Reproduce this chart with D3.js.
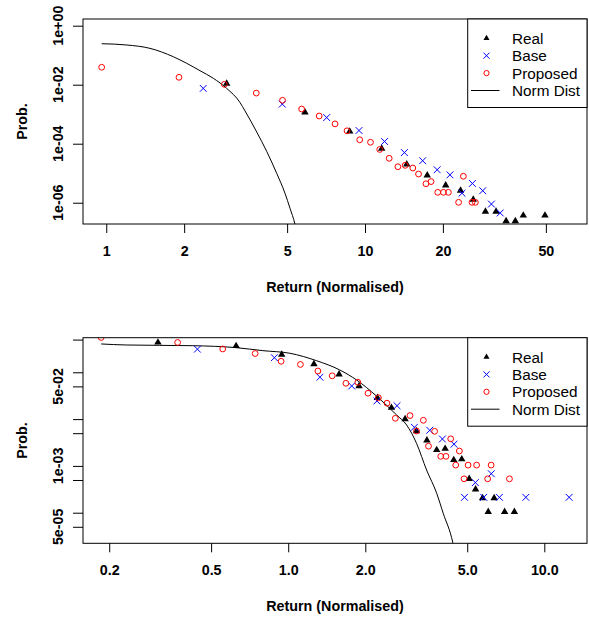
<!DOCTYPE html>
<html><head><meta charset="utf-8">
<script src="https://cdn.jsdelivr.net/npm/d3@7"></script>
<style>body{margin:0;background:#fff}svg{display:block}</style>
</head><body>
<script>
// ---------- data ----------
const topTicksX = [1, 2, 5, 10, 20, 50];
const topTickLabelsX = ["1", "2", "5", "10", "20", "50"];
const topTicksY = [1, 1e-2, 1e-4, 1e-6];
const topTickLabelsY = ["1e+00", "1e-02", "1e-04", "1e-06"];
const bottomTicksX = [0.2, 0.5, 1, 2, 5, 10];
const bottomTickLabelsX = ["0.2", "0.5", "1.0", "2.0", "5.0", "10.0"];
const bottomTicksY = [5e-1, 1e-1, 5e-2, 1e-2, 5e-3, 1e-3, 5e-4, 1e-4, 5e-5];
const bottomTickLabelsY = ["", "", "5e-02", "", "", "1e-03", "", "", "5e-05"];
const legendLabels = ["Real", "Base", "Proposed", "Norm Dist"];
const xTitle = "Return (Normalised)";
const yTitle = "Prob.";

// top panel series: [return, probability]
const topReal = [[2.92,1.1e-2],[5.86,1.16e-3],[8.73,2.6e-4],[11.6,6.8e-5],[14.5,2.0e-5],[17.4,8.5e-6],
  [20.5,3.9e-6],[23.4,2.6e-6],[26.2,1.27e-6],[29.2,5.0e-7],[32.1,5.0e-7],[35.1,2.4e-7],[38.1,2.4e-7],
  [40.9,3.7e-7],[49.6,3.7e-7]];
const topBase = [[2.37,7.5e-3],[4.79,2.2e-3],[7.11,7.7e-4],[9.48,2.8e-4],[11.9,1.19e-4],[14.2,5.0e-5],
  [16.7,2.65e-5],[19.0,1.31e-5],[21.3,8.8e-6],[23.7,2.1e-6],[26.0,4.5e-6],[28.5,2.55e-6],[30.8,9.0e-7],
  [33.3,4.5e-7]];
const topProposed = [[0.96,3.9e-2],[1.91,1.78e-2],[2.86,1.03e-2],[3.80,5.2e-3],[4.80,2.96e-3],[5.69,1.5e-3],
  [6.65,8.7e-4],[7.66,4.7e-4],[8.52,2.74e-4],[9.54,1.36e-4],[10.5,1.12e-4],[11.4,6.4e-5],[12.4,3.2e-5],
  [13.4,1.66e-5],[14.3,1.85e-5],[15.3,1.5e-5],[16.1,9.4e-6],[17.2,4.4e-6],[18.0,5.2e-6],[19.1,2.25e-6],
  [20.1,2.25e-6],[21.0,2.25e-6],[23.0,1.03e-6],[24.0,7.9e-6],[25.9,1.03e-6],[26.7,1.03e-6]];
const topNorm = [[0.96,0.245],[1.20,0.222],[1.475,0.171],[1.815,0.089],[2.046,0.0531],[2.303,0.0298],
  [2.592,0.0165],[2.92,0.0075],[3.287,0.0025],[3.437,0.0013],[3.814,2.5e-4],[4.169,5.5e-5],
  [4.557,9.93e-6],[4.907,2.08e-6],[5.13,6.46e-7],[5.36,1.9e-7],[5.45,1.0e-7]];

// bottom panel series
const bottomReal = [[0.31,0.434],[0.626,0.365],[0.943,0.238],[1.26,0.150],[1.58,0.0906],[1.89,0.051],
  [2.23,0.0286],[2.53,0.0175],[2.86,0.0100],[3.17,0.00557],[3.48,0.00352],[3.80,0.00219],[4.10,0.00233],
  [4.43,0.00134],[4.76,0.00139],[5.09,5.3e-4],[5.39,3.16e-4],[5.74,2.06e-4],[6.37,2.06e-4],[6.04,1.04e-4],
  [7.00,1.04e-4],[7.64,1.04e-4]];
const bottomBase = [[0.442,0.312],[0.883,0.205],[1.33,0.0786],[1.77,0.051],[2.22,0.0244],[2.66,0.0193],
  [3.11,0.00668],[3.57,0.00577],[4.00,0.00376],[4.44,0.00291],[5.38,4.4e-4],[6.21,6.8e-4],[4.88,2.13e-4],
  [5.80,2.13e-4],[6.68,2.13e-4],[8.47,2.13e-4],[12.5,2.13e-4]];
const bottomProposed = [[0.186,0.555],[0.370,0.434],[0.555,0.315],[0.743,0.252],[0.938,0.172],[1.116,0.147],
  [1.306,0.1066],[1.485,0.0842],[1.68,0.0582],[1.87,0.0611],[2.05,0.0357],[2.25,0.0286],[2.43,0.0219],
  [2.62,0.0104],[2.99,0.0119],[3.17,0.00557],[3.37,0.00942],[3.73,0.00548],[3.53,0.00264],[4.31,0.00379],
  [3.94,0.0016],[4.13,0.0016],[4.66,0.00208],[4.51,0.00104],[5.04,0.00104],[5.44,0.00104],[6.20,0.00104],
  [4.86,5.3e-4],[6.01,5.3e-4],[7.31,5.3e-4]];
const bottomNorm = [[0.186,0.403],[0.233,0.383],[0.424,0.370],[0.627,0.336],[0.796,0.290],[1.015,0.255],
  [1.29,0.177],[1.59,0.112],[1.85,0.0684],[2.21,0.0312],[2.65,0.01225],[2.90,0.00748],[3.17,0.00304],
  [3.47,8.17e-4],[3.80,2.6e-4],[4.03,9.7e-5],[4.39,2.33e-5],[4.5,1.2e-5]];

// ---------- layout / style ----------
const W = 589, H = 619;
const FONT = "'Liberation Sans', Arial, Helvetica, sans-serif";
const colReal = "#000000", colBase = "#0000FF", colProp = "#FF0000";

const panels = [
  { id: "top", box: {l: 83, r: 587, t: 19, b: 224}, xDomain: [0.813, 72.1], yDomain: [1.9e-7, 1.687],
    ticksX: topTicksX, labelsX: topTickLabelsX, ticksY: topTicksY, labelsY: topTickLabelsY,
    real: topReal, base: topBase, prop: topProposed, norm: topNorm },
  { id: "bot", box: {l: 83, r: 587, t: 337.7, b: 543.3}, xDomain: [0.158, 14.68], yDomain: [2.22e-5, 0.5484],
    ticksX: bottomTicksX, labelsX: bottomTickLabelsX, ticksY: bottomTicksY, labelsY: bottomTickLabelsY,
    real: bottomReal, base: bottomBase, prop: bottomProposed, norm: bottomNorm }
];

const svg = d3.select("body").append("svg").attr("width", W).attr("height", H)
  .style("font-family", FONT);

const triPath = d3.symbol().type(d3.symbolTriangle).size(24)();

panels.forEach(p => {
  const b = p.box;
  const x = d3.scaleLog().domain(p.xDomain).range([b.l, b.r]);
  const y = d3.scaleLog().domain(p.yDomain).range([b.b, b.t]);

  const clipId = "clip-" + p.id;
  svg.append("clipPath").attr("id", clipId).append("rect")
    .attr("x", b.l).attr("y", b.t).attr("width", b.r - b.l).attr("height", b.b - b.t);

  const g = svg.append("g").attr("clip-path", `url(#${clipId})`);

  // normal distribution line
  g.append("path").datum(p.norm)
    .attr("d", d3.line().x(d => x(d[0])).y(d => y(d[1])).curve(d3.curveMonotoneX))
    .attr("fill", "none").attr("stroke", "#000").attr("stroke-width", 1);

  // Real triangles
  g.selectAll(".real").data(p.real).enter().append("path")
    .attr("d", triPath)
    .attr("transform", d => `translate(${x(d[0])},${y(d[1])})`)
    .attr("fill", colReal);

  // Base crosses
  g.selectAll(".base").data(p.base).enter().append("path")
    .attr("d", "M-3.4,-3.4L3.4,3.4M-3.4,3.4L3.4,-3.4")
    .attr("transform", d => `translate(${x(d[0])},${y(d[1])})`)
    .attr("stroke", colBase).attr("stroke-width", 1).attr("fill", "none");

  // Proposed circles
  g.selectAll(".prop").data(p.prop).enter().append("circle")
    .attr("cx", d => x(d[0])).attr("cy", d => y(d[1])).attr("r", 2.9)
    .attr("fill", "none").attr("stroke", colProp).attr("stroke-width", 1);

  // box
  svg.append("rect").attr("x", b.l).attr("y", b.t).attr("width", b.r - b.l).attr("height", b.b - b.t)
    .attr("fill", "none").attr("stroke", "#000").attr("stroke-width", 1);

  // x axis
  const xa = svg.append("g").attr("transform", `translate(0,${b.b})`)
    .call(d3.axisBottom(x).tickValues(p.ticksX).tickFormat((d, i) => p.labelsX[i]).tickSize(9).tickPadding(13));
  xa.select(".domain").remove();
  xa.selectAll("line").attr("stroke", "#000");
  xa.selectAll("text").attr("fill", "#000").style("font-family", FONT)
    .style("font-size", "14.3px").style("font-weight", "bold");

  // y axis
  const ya = svg.append("g").attr("transform", `translate(${b.l},0)`)
    .call(d3.axisLeft(y).tickValues(p.ticksY).tickFormat("").tickSize(10));
  ya.select(".domain").remove();
  ya.selectAll("line").attr("stroke", "#000");
  svg.append("g").selectAll("text").data(p.ticksY.map((v, i) => [v, p.labelsY[i]]).filter(d => d[1] !== ""))
    .enter().append("text")
    .attr("transform", d => `translate(63,${y(d[0])}) rotate(-90)`)
    .attr("text-anchor", "middle")
    .style("font-size", "14.3px").style("font-weight", "bold")
    .text(d => d[1]);

  // axis titles
  svg.append("text").attr("x", (b.l + b.r) / 2).attr("y", b.b + 68)
    .attr("text-anchor", "middle").style("font-size", "14.3px").style("font-weight", "bold")
    .text(xTitle);
  svg.append("text").attr("transform", `translate(27,${(b.t + b.b) / 2}) rotate(-90)`)
    .attr("text-anchor", "middle").style("font-size", "14.3px").style("font-weight", "bold")
    .text(yTitle);

  // legend
  const lg = svg.append("g");
  const lx0 = 467.7, lw = b.r - 467.7, lh = 88.5;
  lg.append("rect").attr("x", lx0).attr("y", b.t).attr("width", lw).attr("height", lh)
    .attr("fill", "#fff").attr("stroke", "#000").attr("stroke-width", 1);
  const rowY = i => b.t + 19.3 + 17.4 * i;
  const mx = 486.5;
  lg.append("path").attr("d", d3.symbol().type(d3.symbolTriangle).size(16)())
    .attr("transform", `translate(${mx},${rowY(0)})`).attr("fill", colReal);
  lg.append("path").attr("d", "M-3,-3L3,3M-3,3L3,-3")
    .attr("transform", `translate(${mx},${rowY(1)})`).attr("stroke", colBase).attr("fill", "none");
  lg.append("circle").attr("cx", mx).attr("cy", rowY(2)).attr("r", 2.6)
    .attr("fill", "none").attr("stroke", colProp);
  lg.append("line").attr("x1", 471).attr("x2", 499.5).attr("y1", rowY(3)).attr("y2", rowY(3))
    .attr("stroke", "#000");
  lg.selectAll(".lt").data(legendLabels).enter().append("text")
    .attr("x", 512).attr("y", (d, i) => rowY(i) + 5.6)
    .style("font-size", "15.3px").text(d => d);
});
</script>
</body></html>
